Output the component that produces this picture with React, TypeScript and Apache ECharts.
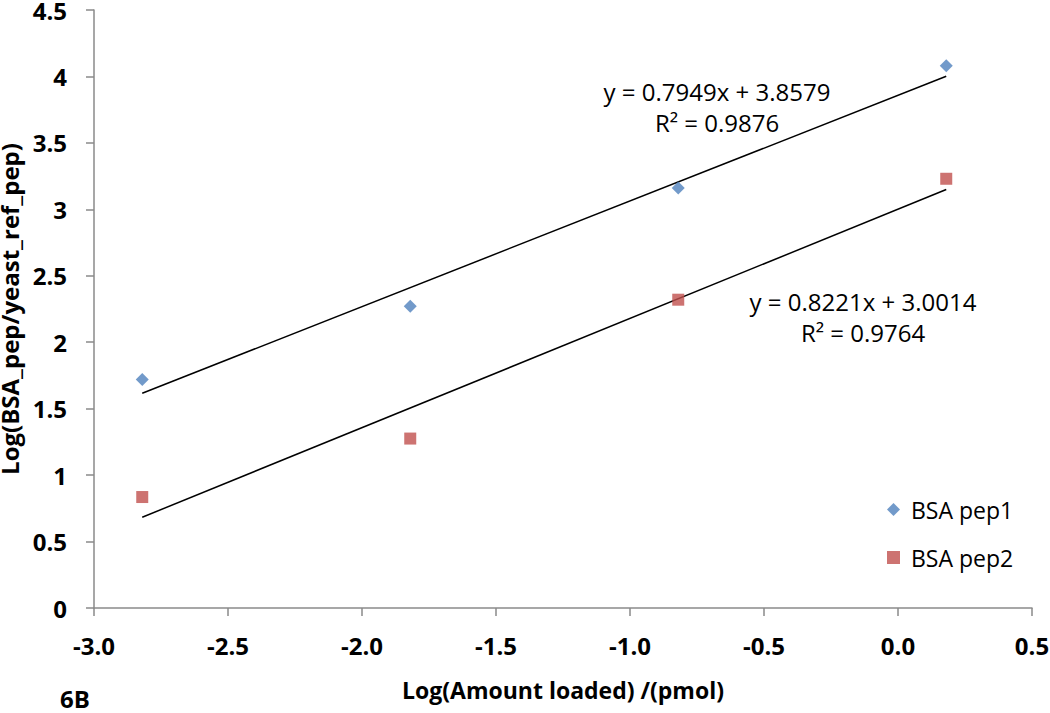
import React, { useEffect, useRef } from "react";
import * as echarts from "echarts";

const xValues = [-2.82, -1.82, -0.82, 0.18];
const pep1 = [1.72, 2.27, 3.16, 4.08];
const pep2 = [0.835, 1.275, 2.32, 3.23];
const trend1 = [[-2.82, 1.616], [0.18, 4.001]];
const trend2 = [[-2.82, 0.683], [0.18, 3.149]];
const eq1 = ["y = 0.7949x + 3.8579", "R² = 0.9876"];
const eq2 = ["y = 0.8221x + 3.0014", "R² = 0.9764"];

const FONT = "'Open Sans', 'Noto Sans', sans-serif";

export default function App() {
  const ref = useRef<HTMLDivElement>(null);
  useEffect(() => {
    const chart = echarts.init(ref.current!, null, { renderer: "svg" });
    const lineCol = "#8a8a8a";
    chart.setOption({
      animation: false,
      backgroundColor: "#ffffff",
      grid: {
        left: 94,
        right: 18,
        top: 10,
        bottom: 105,
        containLabel: false,
        outerBoundsMode: "none",
      },
      xAxis: {
        type: "value",
        min: -3,
        max: 0.5,
        interval: 0.5,
        axisLine: { show: true, onZero: false, lineStyle: { color: lineCol, width: 1.5 } },
        axisTick: { show: true, length: 8, lineStyle: { color: lineCol, width: 1.5 } },
        splitLine: { show: false },
        axisLabel: {
          margin: 25,
          fontSize: 24,
          fontWeight: "bold",
          color: "#000",
          fontFamily: FONT,
          formatter: (v: number) => v.toFixed(1),
        },
        name: "Log(Amount loaded) /(pmol)",
        nameLocation: "middle",
        nameGap: 70,
        nameTextStyle: { fontSize: 23, fontWeight: "bold", color: "#000", fontFamily: FONT },
      },
      yAxis: {
        type: "value",
        min: 0,
        max: 4.5,
        interval: 0.5,
        axisLine: { show: true, onZero: false, lineStyle: { color: lineCol, width: 1.5 } },
        axisTick: { show: true, length: 8, lineStyle: { color: lineCol, width: 1.5 } },
        splitLine: { show: false },
        axisLabel: {
          margin: 27,
          fontSize: 24,
          fontWeight: "bold",
          color: "#000",
          fontFamily: FONT,
          formatter: (v: number) => String(v),
        },
        name: "Log(BSA_pep/yeast_ref_pep)",
        nameLocation: "middle",
        nameGap: 61,
        nameTextStyle: { fontSize: 24, fontWeight: "bold", color: "#000", fontFamily: FONT },
      },
      legend: {
        orient: "vertical",
        left: 882,
        top: 493,
        itemGap: 25,
        itemWidth: 13,
        itemHeight: 13,
        textStyle: { fontSize: 23, color: "#000", fontFamily: FONT, padding: [0, 0, 0, 6] },
        data: [
          { name: "BSA pep1", icon: "diamond" },
          { name: "BSA pep2", icon: "rect" },
        ],
      },
      graphic: [
        {
          type: "text",
          x: 60,
          y: 686,
          style: { text: "6B", fontSize: 24, fontWeight: "bold", fill: "#000", fontFamily: FONT },
        },
        {
          type: "text",
          x: 717,
          y: 107,
          style: {
            text: eq1.join("\n"),
            fontSize: 24,
            lineHeight: 31,
            fill: "#000",
            fontFamily: FONT,
            align: "center",
            verticalAlign: "middle",
          },
        },
        {
          type: "text",
          x: 863,
          y: 317,
          style: {
            text: eq2.join("\n"),
            fontSize: 24,
            lineHeight: 31,
            fill: "#000",
            fontFamily: FONT,
            align: "center",
            verticalAlign: "middle",
          },
        },
      ],
      series: [
        {
          name: "BSA pep1",
          type: "scatter",
          symbol: "diamond",
          symbolSize: 13,
          itemStyle: { color: "#4F81BD" },
          data: xValues.map((x, i) => [x, pep1[i]]),
          z: 3,
        },
        {
          name: "BSA pep2",
          type: "scatter",
          symbol: "rect",
          symbolSize: 12,
          itemStyle: { color: "#C0504D" },
          data: xValues.map((x, i) => [x, pep2[i]]),
          z: 3,
        },
        {
          name: "trend1",
          type: "line",
          data: trend1,
          symbol: "none",
          lineStyle: { color: "#000", width: 1.5 },
          silent: true,
          z: 2,
        },
        {
          name: "trend2",
          type: "line",
          data: trend2,
          symbol: "none",
          lineStyle: { color: "#000", width: 1.5 },
          silent: true,
          z: 2,
        },
      ],
    });
    return () => chart.dispose();
  }, []);
  return <div ref={ref} style={{ width: 1050, height: 713, position: "absolute", left: 0, top: 0 }} />;
}
